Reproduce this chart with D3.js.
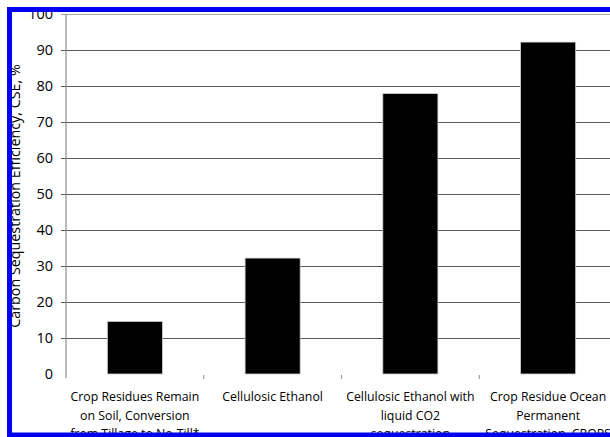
<!DOCTYPE html>
<html>
<head>
<meta charset="utf-8">
<script src="https://cdn.jsdelivr.net/npm/d3@7"></script>
<style>
  html, body { margin: 0; background: #fff; overflow: hidden; }
  svg { display: block; overflow: hidden; font-family: "Open Sans", sans-serif; }
</style>
</head>
<body>
<div id="chart"></div>
<script>
var svgWidth = 610;
var svgHeight = 437;

// chart data
var categories = ["Crop Residues Remain on Soil, Conversion from Tillage to No-Till*",
    "Cellulosic Ethanol",
    "Cellulosic Ethanol with liquid CO2 sequestration",
    "Crop Residue Ocean Permanent Sequestration, CROPS"];
var values = [14.6, 32.2, 77.9, 92.2];
var labelLines = [
    ["Crop Residues Remain", "on Soil, Conversion", "from Tillage to No-Till*"],
    ["Cellulosic Ethanol"],
    ["Cellulosic Ethanol with", "liquid CO2", "sequestration"],
    ["Crop Residue Ocean", "Permanent", "Sequestration, CROPS"]
];
var yTicks = [0, 10, 20, 30, 40, 50, 60, 70, 80, 90, 100];
var yTitle = "Carbon Sequestration Efficiency, CSE, %";

// plot area (right edge runs past the picture, as in the source)
var plot = { left: 66, right: 617, top: 14, bottom: 374 };

var svg = d3.select("#chart")
    .append("svg")
    .attr("width", svgWidth)
    .attr("height", svgHeight);

// keep everything inside the picture
svg.append("clipPath")
    .attr("id", "pic")
    .append("rect")
    .attr("width", svgWidth)
    .attr("height", svgHeight);
var g = svg.append("g").attr("clip-path", "url(#pic)");

var xScale = d3.scaleBand()
    .domain(categories)
    .range([plot.left, plot.right])
    .paddingInner(0.6)
    .paddingOuter(0.3);

var yScale = d3.scaleLinear()
    .domain([0, 100])
    .range([plot.bottom, plot.top]);

// gridlines + little outward ticks
var grid = g.append("g")
    .attr("transform", `translate(${plot.left - 5}, 0)`)
    .call(d3.axisLeft(yScale)
        .tickValues(yTicks.filter(d => d > 0))
        .tickSize(-(svgWidth - plot.left + 5))
        .tickFormat(""));
grid.select(".domain").remove();
grid.selectAll(".tick line")
    .attr("stroke", d => d === 100 ? "#a6a6a6" : "#595959")
    .attr("stroke-width", 1);

// y tick labels
var yAxis = g.append("g")
    .attr("transform", `translate(${plot.left}, 0)`)
    .call(d3.axisLeft(yScale).tickValues(yTicks).tickSize(0).tickPadding(13));
yAxis.select(".domain").remove();
yAxis.selectAll("text")
    .style("font-family", "'Open Sans', sans-serif")
    .style("font-size", "14.5px")
    .attr("fill", "#000");

// bars
g.selectAll("rect.bar")
    .data(values)
    .enter()
    .append("rect")
    .classed("bar", true)
    .attr("x", (d, i) => xScale(categories[i]))
    .attr("y", d => yScale(d))
    .attr("width", xScale.bandwidth())
    .attr("height", d => yScale(0) - yScale(d))
    .attr("fill", "#000")
    .attr("stroke", "#d0d0d0")
    .attr("stroke-width", 0.8);

// vertical axis line
g.append("line")
    .attr("x1", plot.left).attr("x2", plot.left)
    .attr("y1", plot.top).attr("y2", plot.bottom + 4)
    .attr("stroke", "#8c8c8c")
    .attr("stroke-width", 1.2);

// category boundary ticks (no horizontal axis line)
var step = xScale.step();
var bounds = d3.range(1, categories.length).map(i => plot.left + i * step);
g.selectAll("line.cattick")
    .data(bounds)
    .enter()
    .append("line")
    .classed("cattick", true)
    .attr("x1", d => d).attr("x2", d => d)
    .attr("y1", plot.bottom + 1).attr("y2", plot.bottom + 5)
    .attr("stroke", "#8c8c8c");

// category labels
var catLabels = g.selectAll("text.catlabel")
    .data(categories)
    .enter()
    .append("text")
    .classed("catlabel", true)
    .attr("x", d => xScale(d) + xScale.bandwidth() / 2)
    .attr("y", 401)
    .style("font-size", "12.3px")
    .style("text-anchor", "middle")
    .attr("fill", "#000");
catLabels.each(function(d, i) {
    var t = d3.select(this);
    labelLines[i].forEach(function(line, j) {
        t.append("tspan")
            .attr("x", xScale(d) + xScale.bandwidth() / 2)
            .attr("dy", j === 0 ? 0 : 18.5)
            .text(line);
    });
});

// y axis title
g.append("text")
    .attr("transform", `translate(20, 196) rotate(-90)`)
    .style("font-size", "14.3px")
    .style("text-anchor", "middle")
    .attr("fill", "#000")
    .text(yTitle);

// blue frame on left, top and bottom only, drawn on top
var frame = d3.path();
frame.moveTo(svgWidth, 9.5);
frame.lineTo(9.5, 9.5);
frame.lineTo(9.5, 435);
frame.lineTo(svgWidth, 435);
g.append("path")
    .attr("d", frame.toString())
    .attr("fill", "none")
    .attr("stroke", "#0000ee")
    .attr("stroke-width", 5);
</script>
</body>
</html>
